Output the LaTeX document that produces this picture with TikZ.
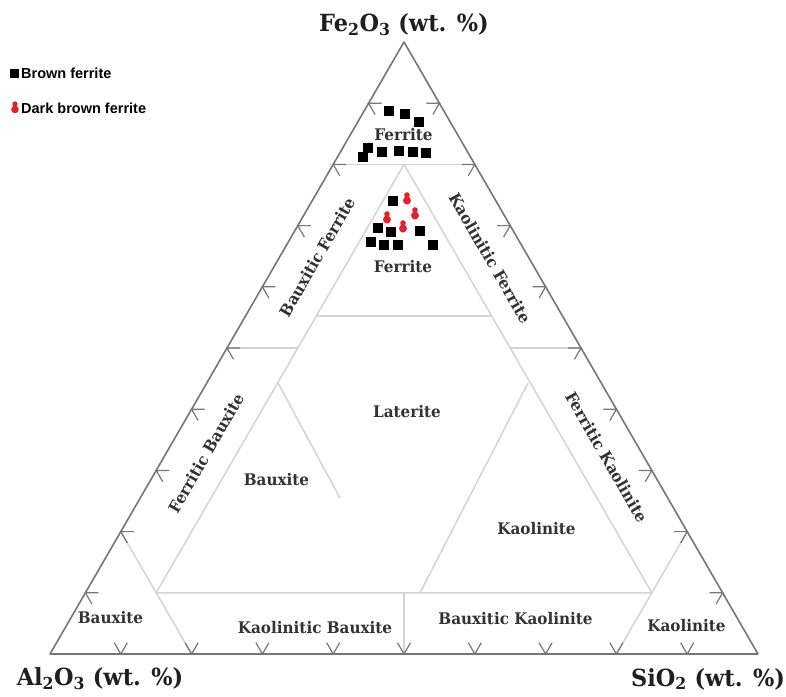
\documentclass[tikz,border=0pt]{standalone}
\usepackage{fontspec}
\newfontfamily\legendfont{Liberation Sans}
\newfontfamily\regionfont[FakeStretch=0.95]{DejaVu Serif}
\definecolor{edgegray}{RGB}{118,118,118}
\definecolor{innergray}{RGB}{212,212,212}
\definecolor{labelgray}{RGB}{50,50,50}
\definecolor{ferritered}{RGB}{228,32,40}
\begin{document}
\begin{tikzpicture}[x=1pt, y=-1pt,
		edge/.style={edgegray, line width=1.6pt, line join=round},
		tickline/.style={edgegray, line width=1.2pt},
		innerline/.style={innergray, line width=1.5pt},
		region/.style={text=labelgray, font=\regionfont\bfseries\fontsize{16}{18}\selectfont, inner sep=0pt},
		axislabel/.style={text=black!88, font=\regionfont\bfseries\fontsize{23.6}{26}\selectfont, inner sep=0pt},
		legend/.style={font=\legendfont\bfseries\fontsize{14.5}{16}\selectfont, anchor=west, inner sep=0pt}]
		\useasboundingbox (0,0) rectangle (786,696);
		\coordinate (al) at (50,654);
		\coordinate (si) at (758,654);
		\coordinate (fe) at (404,42);
		
		\draw[innerline] (156.2,592.8) -- (404,164.4) -- (651.8,592.8) -- cycle;
		\draw[innerline] (333.2,164.4) -- (474.8,164.4);
		\draw[innerline] (227,348) -- (297.8,348);
		\draw[innerline] (510.2,348) -- (581,348);
		\draw[innerline] (316,316) -- (491.8,316);
		\draw[innerline] (120.8,531.6) -- (191.6,654);
		\draw[innerline] (687.2,531.6) -- (616.4,654);
		\draw[innerline] (404,592.8) -- (404,654);
		\draw[innerline] (278,383) -- (340,498);
		\draw[innerline] (528,383) -- (420,592.8);
		
		\draw[edge] (al) -- (si) -- (fe) -- cycle;
		\foreach \k in {1,...,9} {
			\draw[tickline] (50+70.8*\k-6.5,642.7) -- ++(6.5,11.3) -- ++(6.5,-11.3);
			\draw[tickline] (50+35.4*\k+13,654-61.2*\k) -- ++(-13,0) -- ++(6.5,11.3);
			\draw[tickline] (758-35.4*\k-13,654-61.2*\k) -- ++(13,0) -- ++(-6.5,11.3);
		}
		
		\node[axislabel] (fetitle) at (404,25) {Fe\textsubscript{2}O\textsubscript{3} (wt. \%)};
		\node[axislabel] (altitle) at (100,679) {Al\textsubscript{2}O\textsubscript{3} (wt. \%)};
		\node[axislabel] (sititle) at (708,679) {SiO\textsubscript{2} (wt. \%)};
		
		\node[region] (ferritetop) at (403.5,135) {Ferrite};
		\node[region] (ferrite) at (403,267) {Ferrite};
		\node[region] (laterite) at (407,412) {Laterite};
		\node[region] (bauxite) at (276.5,480) {Bauxite};
		\node[region] (kaolinite) at (536.5,529) {Kaolinite};
		\node[region] (bauxitecorner) at (110.5,618) {Bauxite};
		\node[region] (kaolbaux) at (315,628) {Kaolinitic Bauxite};
		\node[region] (bauxkaol) at (515.5,619) {Bauxitic Kaolinite};
		\node[region] (kaolinitecorner) at (686.5,626) {Kaolinite};
		\node[region, rotate=60] (bauxferr) at (317,257) {Bauxitic Ferrite};
		\node[region, rotate=-60] (kaolferr) at (490,258) {Kaolinitic Ferrite};
		\node[region, rotate=60] (ferrbaux) at (206,453) {Ferritic Bauxite};
		\node[region, rotate=-60] (ferrkaol) at (606.5,457) {Ferritic Kaolinite};
		
		\foreach \x/\y in {389/111, 405/114, 419/122, 368/148, 363/157, 382/152, 399/151, 413/152, 426/153,
				393/201, 378/228, 391/232, 420/231, 371/242, 384/245, 398/245, 433/245}
			\fill (\x-4.75,\y-4.75) rectangle ++(9.5,9.5);
		\foreach \x/\y in {407/198, 387/217, 415/213, 403/226}
			\fill[ferritered] (\x,\y+2.5) circle (4pt) (\x,\y-3) circle (2.8pt);
		
		\fill (9.5,68.5) rectangle ++(9,9);
		\node[legend] (brown) at (21,73) {Brown ferrite};
		\fill[ferritered] (15,109.5) circle (3.8pt) (15,104) circle (2.7pt);
		\node[legend] (darkbrown) at (21,108) {Dark brown ferrite};
	\end{tikzpicture}
\end{document}
